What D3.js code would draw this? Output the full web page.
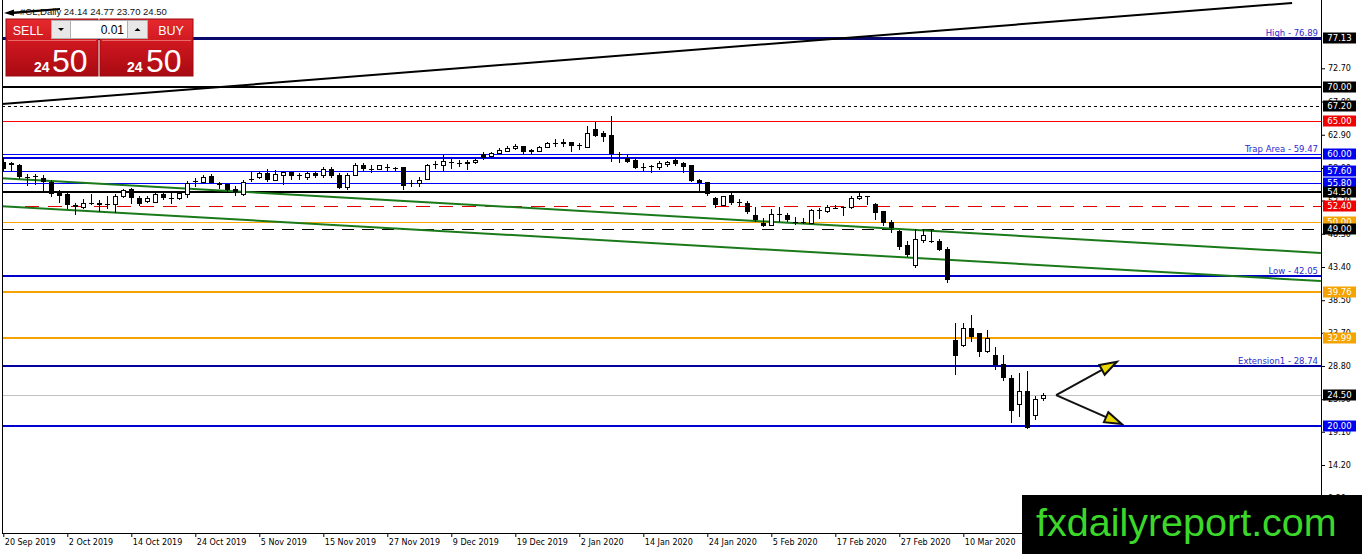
<!DOCTYPE html>
<html><head><meta charset="utf-8">
<script src="https://cdn.jsdelivr.net/npm/d3@7"></script>
<style>body{margin:0;background:#fff;overflow:hidden}svg{display:block}</style>
</head><body>
<svg id="chart" width="1362" height="554"></svg>
<script>
// ---------------- DATA ----------------
const symbolTitle = "#CL,Daily 24.14 24.77 23.70 24.50";
const opens  = [58.9,58.8,58.5,56.8,56.7,56.5,56.0,54.3,54.2,52.5,52.3,52.8,52.8,52.6,52.7,53.8,54.9,53.5,53.1,53.0,54.2,53.7,53.5,54.2,56.0,55.9,56.8,55.8,55.7,54.9,54.1,56.3,56.6,57.3,56.3,57.0,57.4,56.9,56.6,57.3,56.9,57.9,56.9,55.2,57.0,58.4,57.9,57.9,58.2,58.2,58.1,55.7,55.8,56.4,58.6,58.4,58.8,58.9,58.9,58.9,60.0,59.8,60.2,60.5,60.9,61.2,60.6,60.5,61.1,61.7,61.8,61.8,61.3,61.1,63.7,63.1,62.8,60.0,59.5,59.2,58.1,58.2,58.1,58.6,59.2,58.8,58.4,56.2,55.9,53.6,52.6,54.0,53.2,52.9,51.0,49.9,49.6,51.1,51.1,50.0,49.9,49.9,51.7,51.6,52.3,52.2,52.2,53.5,53.8,52.7,51.6,50.0,48.7,46.6,43.7,47.4,47.3,47.3,46.1,32.6,31.9,34.4,33.6,31.05,30.4,29.05,27.1,23.15,25.1,21.6,24.14];
const highs  = [59.4,58.9,58.6,57.1,57.1,56.9,56.3,54.8,54.3,52.9,53.4,54.2,53.3,53.9,54.1,54.9,55.1,53.8,53.8,54.3,54.3,54.3,54.6,56.1,56.5,56.9,57.1,55.9,55.8,55.4,56.2,57.5,57.5,57.9,57.7,57.5,57.6,57.3,57.5,57.5,58.1,58.2,57.2,57.2,58.7,58.7,58.4,58.5,58.6,58.2,58.1,56.3,56.6,58.6,59.1,59.9,59.3,59.2,59.2,59.4,60.4,60.4,61.0,61.2,61.5,61.3,60.8,61.3,61.8,62.2,62.3,61.9,61.7,64.2,64.8,63.4,65.7,60.4,60.0,59.3,58.7,58.5,59.0,59.1,59.5,58.9,58.4,56.4,56.0,53.7,53.9,54.4,53.4,53.2,52.3,50.6,52.0,52.3,51.3,50.7,50.6,51.9,52.1,52.5,52.5,52.3,53.8,54.6,53.9,52.9,51.7,50.4,48.9,47.2,49.0,49.0,48.9,47.5,46.4,35.1,35.1,36.3,33.6,34.1,31.6,30.4,27.4,27.7,28.0,24.3,24.77];
const lows   = [57.6,57.4,56.4,55.4,55.5,54.3,53.7,52.8,51.9,51.0,51.9,52.5,51.5,52.0,51.3,53.6,52.7,52.4,52.9,52.8,53.3,52.7,53.3,53.6,55.2,55.7,55.7,54.9,54.3,53.9,53.8,56.0,56.4,55.9,56.2,55.5,56.2,56.2,56.2,56.5,56.5,56.5,54.9,54.7,56.9,57.4,57.3,57.7,57.4,57.6,54.7,55.2,55.2,56.2,57.9,57.5,57.9,58.1,57.7,58.6,59.2,59.5,60.0,60.3,60.6,59.9,59.9,60.3,60.9,61.1,61.1,60.3,60.6,61.0,62.6,61.9,58.9,58.7,58.7,57.9,57.6,57.3,57.7,58.2,58.3,57.3,55.9,54.6,53.8,52.1,52.5,52.5,52.3,51.2,50.0,49.3,49.5,50.0,50.1,49.6,49.7,49.8,50.5,51.3,51.9,50.9,52.0,53.3,52.5,50.3,49.5,48.4,45.9,44.9,43.3,46.9,46.9,45.7,41.0,27.4,31.6,32.4,30.1,30.7,28.2,26.6,20.4,21.3,19.5,20.8,23.70];
const closes = [57.9,58.4,56.6,56.7,56.8,56.0,54.1,53.9,52.5,52.2,52.9,52.9,52.5,52.65,53.8,54.7,53.5,52.7,53.6,54.2,53.6,53.5,54.3,55.8,56.1,56.6,55.8,55.5,54.7,54.4,55.9,56.4,57.2,56.3,57.1,57.4,56.8,56.9,57.3,56.8,57.9,56.8,55.0,56.9,58.5,57.8,57.9,58.4,58.2,58.0,55.4,55.8,56.3,58.4,58.6,59.1,58.9,58.8,58.6,59.2,59.5,60.2,60.7,60.9,61.3,60.3,60.3,61.1,61.7,61.75,61.5,61.3,61.35,63.1,62.7,62.6,60.1,60.1,58.9,58.0,58.15,58.25,58.8,58.9,58.6,58.2,56.1,55.8,54.2,52.6,53.8,52.9,53.0,51.5,50.3,49.4,51.2,51.15,50.4,50.05,50.0,51.8,51.8,52.3,52.1,52.25,53.6,53.8,53.8,51.3,49.9,49.1,46.4,45.2,47.6,48.1,47.2,45.9,41.5,30.3,34.45,33.1,30.8,32.9,28.9,27.0,22.1,25.1,19.7,23.9,24.50];

const xTickBars   = [0,8,16,24,32,40,48,56,64,72,80,88,96,104,112,120];
const xTickLabels = ["20 Sep 2019","2 Oct 2019","14 Oct 2019","24 Oct 2019","5 Nov 2019","15 Nov 2019","27 Nov 2019","9 Dec 2019","19 Dec 2019","2 Jan 2020","14 Jan 2020","24 Jan 2020","5 Feb 2020","17 Feb 2020","27 Feb 2020","10 Mar 2020"];
const yTicks = [72.70,67.80,62.90,58.00,53.20,48.30,43.40,38.50,33.70,28.80,23.90,19.10,14.20,9.30];

// horizontal levels
const levelPrices = [77.13,70.00,67.20,65.00,60.00,59.47,57.60,55.80,54.50,52.40,50.00,49.00,42.05,39.76,32.99,28.74,24.50,20.00];
const levelNames  = ["High - 76.89","","","","Trap Area - 59.47","","","","","","","","Low - 42.05","","","Extension1 - 28.74","",""];
const tagPrices   = [77.13,70.00,67.20,65.00,60.00,57.60,55.80,54.50,52.40,50.00,49.00,39.76,32.99,24.50,20.00];

// trend lines: [bar, price] end points
const trendStartBars   = [-0.16,-0.41,-0.41];
const trendStartPrices = [67.43,56.52,52.39];
const trendEndBars     = [161.1,164.7,164.7];
const trendEndPrices   = [82.33,45.46,41.33];

// arrows: start and end points [bar, price]
const arrowStartBar = 131.6, arrowStartPrice = 24.50;
const arrowEndBars   = [139.2,139.8];
const arrowEndPrices = [29.43,20.24];

const bidPrice = "24", bidPips = "50", askPrice = "24", askPips = "50", lotSize = "0.01";
const watermark = "fxdailyreport.com";

// ---------------- STYLES ----------------
const levelStyle = {
  77.13:{c:"#0a0a6e",w:3}, 70.00:{c:"#000",w:2}, 67.20:{c:"#000",w:1,d:"3,3"},
  65.00:{c:"#ff0000",w:1}, 60.00:{c:"#0000ff",w:1}, 59.47:{c:"#0000e0",w:2},
  57.60:{c:"#0000ff",w:1}, 55.80:{c:"#0000ff",w:1}, 54.50:{c:"#000",w:2},
  52.40:{c:"#e00000",w:1,d:"14,9"}, 50.00:{c:"#ffa500",w:1}, 49.00:{c:"#000",w:1,d:"12,8"},
  42.05:{c:"#0000c8",w:2}, 39.76:{c:"#f5a300",w:2}, 32.99:{c:"#f5a300",w:2},
  28.74:{c:"#0000a0",w:2}, 24.50:{c:"#c0c0c0",w:1}, 20.00:{c:"#0000d0",w:2}
};
const tagColor = {77.13:"#000",70.00:"#000",67.20:"#000",65.00:"#f00000",60.00:"#0000f0",57.60:"#0000f0",55.80:"#0000f0",54.50:"#000",52.40:"#f00000",50.00:"#f5a300",49.00:"#000",39.76:"#f5a300",32.99:"#f5a300",24.50:"#000",20.00:"#0000f0"};
const trendColors = ["#000","#1a7a1a","#1a7a1a"];

// ---------------- CHART ----------------
const W = 1362, H = 554, plotL = 2, plotR = 1321, plotB = 533;
const svg = d3.select("#chart");
const x = d3.scaleLinear().domain([0,130]).range([3.3,1043.3]);
const y = d3.scaleLinear().domain([4.17,82.772]).range([plotB,0]);
const fontA = "DejaVu Sans, Verdana, sans-serif";

const defs = svg.append("defs");
defs.append("clipPath").attr("id","plot").append("rect")
  .attr("x",plotL).attr("y",0).attr("width",plotR-plotL).attr("height",plotB);
const rg = defs.append("linearGradient").attr("id","redg").attr("x1",0).attr("y1",0).attr("x2",0).attr("y2",1);
rg.append("stop").attr("offset","0%").attr("stop-color","#e52a2e");
rg.append("stop").attr("offset","45%").attr("stop-color","#cc161e");
rg.append("stop").attr("offset","100%").attr("stop-color","#a80a12");

const plot = svg.append("g").attr("clip-path","url(#plot)");

// levels
plot.selectAll("line.level").data(levelPrices).join("line")
  .attr("shape-rendering","crispEdges")
  .attr("x1",plotL).attr("x2",plotR)
  .attr("y1",d=>Math.round(y(d))+ (levelStyle[d].w%2?0.5:0))
  .attr("y2",d=>Math.round(y(d))+ (levelStyle[d].w%2?0.5:0))
  .attr("stroke",d=>levelStyle[d].c).attr("stroke-width",d=>levelStyle[d].w)
  .attr("stroke-dasharray",d=>levelStyle[d].d||null);

plot.selectAll("text.lname").data(levelPrices.map((p,i)=>({p,t:levelNames[i]})).filter(d=>d.t)).join("text")
  .attr("x",plotR-3).attr("y",d=>y(d.p)-2).attr("text-anchor","end")
  .attr("font-family",fontA).attr("font-size",8.5).attr("fill","#2a2ad0").text(d=>d.t);

// trend lines
plot.selectAll("line.trend").data(trendStartBars).join("line")
  .attr("x1",(d,i)=>x(trendStartBars[i])).attr("y1",(d,i)=>y(trendStartPrices[i]))
  .attr("x2",(d,i)=>x(trendEndBars[i])).attr("y2",(d,i)=>y(trendEndPrices[i]))
  .attr("stroke",(d,i)=>trendColors[i]).attr("stroke-width",2);

// candles
const bars = opens.map((o,i)=>({i,o,h:highs[i],l:lows[i],c:closes[i]}));
const cg = plot.append("g").attr("shape-rendering","crispEdges");
const cx = d=>Math.round(x(d.i));
cg.selectAll("line.wick").data(bars).join("line")
  .attr("x1",d=>cx(d)+0.5).attr("x2",d=>cx(d)+0.5)
  .attr("y1",d=>y(d.h)).attr("y2",d=>y(d.l)).attr("stroke","#000").attr("stroke-width",1);
cg.selectAll("rect.body").data(bars.filter(d=>Math.abs(y(d.o)-y(d.c))>=1.5)).join("rect")
  .attr("x",d=>d.c>=d.o?cx(d)-1.5:cx(d)-2)
  .attr("width",d=>d.c>=d.o?4:5)
  .attr("y",d=>Math.round(y(Math.max(d.o,d.c)))+(d.c>=d.o?0.5:0))
  .attr("height",d=>Math.max(1,Math.round(y(Math.min(d.o,d.c)))-Math.round(y(Math.max(d.o,d.c)))))
  .attr("fill",d=>d.c>=d.o?"#fff":"#000")
  .attr("stroke",d=>d.c>=d.o?"#000":"none").attr("stroke-width",1);
cg.selectAll("line.doji").data(bars.filter(d=>Math.abs(y(d.o)-y(d.c))<1.5)).join("line")
  .attr("x1",d=>cx(d)-2).attr("x2",d=>cx(d)+3)
  .attr("y1",d=>Math.round(y(d.c))+0.5).attr("y2",d=>Math.round(y(d.c))+0.5)
  .attr("stroke","#000");

// arrows
arrowEndBars.forEach((b,i)=>{
  const x0=x(arrowStartBar), y0=y(arrowStartPrice), x1=x(b), y1=y(arrowEndPrices[i]);
  const dx=x1-x0, dy=y1-y0, L=Math.hypot(dx,dy), ux=dx/L, uy=dy/L;
  const hl=17, hw=5.5, bx=x1-ux*hl, by=y1-uy*hl;
  plot.append("line").attr("x1",x0).attr("y1",y0).attr("x2",bx).attr("y2",by)
    .attr("stroke","#111").attr("stroke-width",2);
  plot.append("path").attr("d",`M${x1},${y1}L${bx-uy*hw},${by+ux*hw}L${bx+uy*hw},${by-ux*hw}Z`)
    .attr("fill","#e8d800").attr("stroke","#111").attr("stroke-width",2).attr("stroke-linejoin","miter");
});

// frame
svg.append("line").attr("x1",plotL+0.5).attr("x2",plotL+0.5).attr("y1",0).attr("y2",plotB).attr("stroke","#000");
svg.append("line").attr("x1",plotL).attr("x2",plotR+1).attr("y1",plotB+0.5).attr("y2",plotB+0.5).attr("stroke","#000");
svg.append("line").attr("x1",plotR+0.5).attr("x2",plotR+0.5).attr("y1",0).attr("y2",plotB).attr("stroke","#000");

// x axis
const gx = svg.append("g").attr("transform",`translate(0,${plotB})`)
  .call(d3.axisBottom(x).tickValues(xTickBars).tickFormat((d,i)=>xTickLabels[i]).tickSize(4).tickSizeOuter(0));
gx.select(".domain").remove();
gx.selectAll("text").attr("text-anchor","start").attr("dx",1).attr("y",6)
  .attr("font-family",fontA).attr("font-size",8).attr("fill","#000");

// y axis (right)
const gy = svg.append("g").attr("transform",`translate(${plotR},0)`)
  .call(d3.axisRight(y).tickValues(yTicks).tickFormat(d3.format(".2f")).tickSize(4).tickSizeOuter(0));
gy.select(".domain").remove();
gy.selectAll("text").attr("x",7).attr("font-family",fontA).attr("font-size",8).attr("fill","#000");

// price tags
const tags = svg.append("g");
tagPrices.forEach(p=>{
  const cy = Math.round(y(p));
  tags.append("rect").attr("x",1323).attr("y",cy-5.5).attr("width",33).attr("height",11).attr("fill",tagColor[p]);
  tags.append("text").attr("x",1339.5).attr("y",cy).attr("dy","0.36em").attr("text-anchor","middle")
    .attr("font-family",fontA).attr("font-size",8.5).attr("fill","#fff").text(d3.format(".2f")(p));
});

// title
svg.append("path").attr("d","M4,13 L14,9.5 L14,11.5 L60,8 L60,10 L14,14 L14,16 Z").attr("fill","#000");
svg.append("text").attr("x",20).attr("y",15).attr("font-family","Liberation Sans, Arial, sans-serif")
  .attr("font-size",9.5).attr("fill","#111").text(symbolTitle);

// trade panel
const tp = svg.append("g").attr("font-family","Liberation Sans, Arial, sans-serif");
tp.append("rect").attr("x",6).attr("y",19).attr("width",92).attr("height",57).attr("fill","url(#redg)").attr("stroke","#9a0a10");
tp.append("rect").attr("x",100).attr("y",19).attr("width",93).attr("height",57).attr("fill","url(#redg)").attr("stroke","#9a0a10");
tp.append("line").attr("x1",8).attr("x2",96).attr("y1",40.5).attr("y2",40.5).attr("stroke","#ee6a6a");
tp.append("line").attr("x1",102).attr("x2",191).attr("y1",40.5).attr("y2",40.5).attr("stroke","#ee6a6a");
tp.append("text").attr("x",28).attr("y",34.5).attr("text-anchor","middle").attr("font-size",12.5).attr("fill","#fff").text("SELL");
tp.append("text").attr("x",171).attr("y",34.5).attr("text-anchor","middle").attr("font-size",12.5).attr("fill","#fff").text("BUY");
tp.append("rect").attr("x",51.5).attr("y",20.5).attr("width",19).attr("height",18).attr("fill","#e8e8e8").attr("stroke","#b0b0b0");
tp.append("path").attr("d","M58,28 L64,28 L61,31 Z").attr("fill","#000");
tp.append("rect").attr("x",70.5).attr("y",20.5).attr("width",57).attr("height",18).attr("fill","#fff").attr("stroke","#b0b0b0");
tp.append("text").attr("x",124).attr("y",34).attr("text-anchor","end").attr("font-size",12).attr("fill","#000").text(lotSize);
tp.append("rect").attr("x",127.5).attr("y",20.5).attr("width",20).attr("height",18).attr("fill","#e8e8e8").attr("stroke","#b0b0b0");
tp.append("path").attr("d","M134.5,31 L140.5,31 L137.5,28 Z").attr("fill","#000");
tp.append("text").attr("x",34).attr("y",72).attr("font-size",14).attr("font-weight","bold").attr("fill","#fff").text(bidPrice);
tp.append("text").attr("x",52).attr("y",72).attr("font-size",32).attr("fill","#fff").text(bidPips);
tp.append("text").attr("x",127).attr("y",72).attr("font-size",14).attr("font-weight","bold").attr("fill","#fff").text(askPrice);
tp.append("text").attr("x",146).attr("y",72).attr("font-size",32).attr("fill","#fff").text(askPips);

// watermark
svg.append("rect").attr("x",1022).attr("y",495).attr("width",340).attr("height",59).attr("fill","#000");
svg.append("text").attr("x",1036).attr("y",536).attr("font-family","Liberation Sans, Arial, sans-serif")
  .attr("font-size",39.5).attr("fill","#3bd82a").text(watermark);
</script>
</body></html>
